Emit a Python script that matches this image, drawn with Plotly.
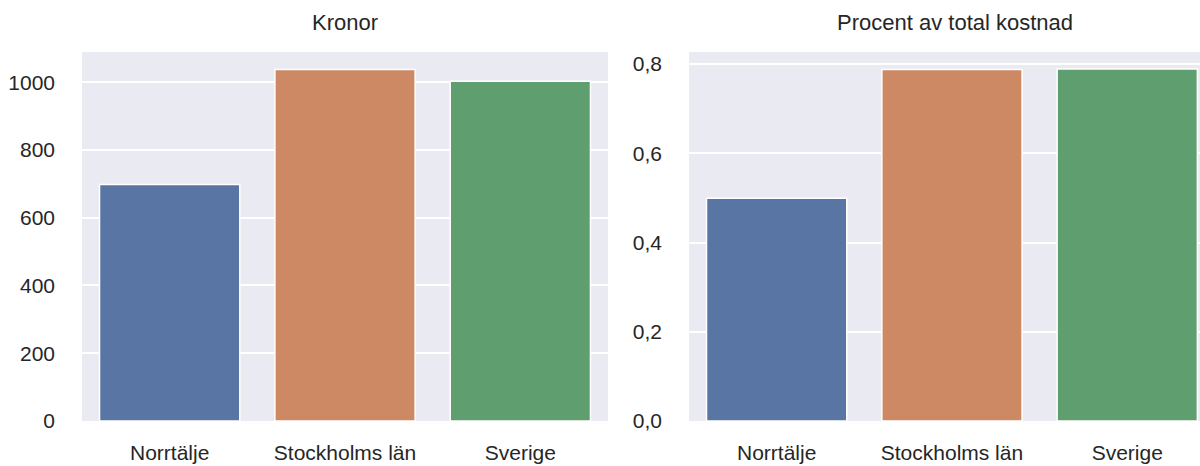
import plotly.graph_objects as go
from plotly.subplots import make_subplots

categories = ["Norrtälje", "Stockholms län", "Sverige"]
kronor = [698, 1037, 1003]
procent = [0.499, 0.788, 0.789]
titles = ["Kronor", "Procent av total kostnad"]
colors = ["#5975A4", "#CC8963", "#5F9E6E"]

W, H = 1200, 466
fig = make_subplots(rows=1, cols=2)

fig.add_trace(go.Bar(x=categories, y=kronor, marker=dict(color=colors, line=dict(color="white", width=1.5)),
                     width=0.8, showlegend=False), row=1, col=1)
fig.add_trace(go.Bar(x=categories, y=procent, marker=dict(color=colors, line=dict(color="white", width=1.5)),
                     width=0.8, showlegend=False), row=1, col=2)

font_color = "#262626"
axis_common = dict(gridcolor="white", gridwidth=1.8, zeroline=False, showline=False, automargin=False,
                   ticks="", tickfont=dict(size=21, color=font_color))

fig.update_xaxes(**axis_common, showgrid=False, ticklabelstandoff=17)
fig.update_yaxes(**axis_common, showgrid=True, ticklabelstandoff=26)

fig.update_layout(
    xaxis=dict(domain=[82 / W, 608 / W], range=[-0.5, 2.5]),
    xaxis2=dict(domain=[689 / W, 1.0], range=[-0.5, 2.415]),
    yaxis=dict(range=[0, 1089], tickvals=[0, 200, 400, 600, 800, 1000], tickformat="d"),
    yaxis2=dict(range=[0, 0.827], tickvals=[0, 0.2, 0.4, 0.6, 0.8], tickformat=".1f"),
    separators=", ",
    width=W, height=H,
    margin=dict(l=0, r=0, t=52, b=45, pad=0, autoexpand=False),
    paper_bgcolor="white",
    plot_bgcolor="#EAEAF2",
    font=dict(family="Liberation Sans, Arial, sans-serif", color=font_color),
    bargap=0.2,
    annotations=[
        dict(text=titles[0], x=345 / W, y=1, xref="paper", yref="paper", xanchor="center", yanchor="bottom",
             yshift=15, showarrow=False, font=dict(size=22, color=font_color)),
        dict(text=titles[1], x=955 / W, y=1, xref="paper", yref="paper", xanchor="center", yanchor="bottom",
             yshift=15, showarrow=False, font=dict(size=22, color=font_color)),
    ],
)

fig.write_html("out.html", config={"displayModeBar": False},
               post_script="document.body.style.margin='0';document.body.style.overflow='hidden';")
